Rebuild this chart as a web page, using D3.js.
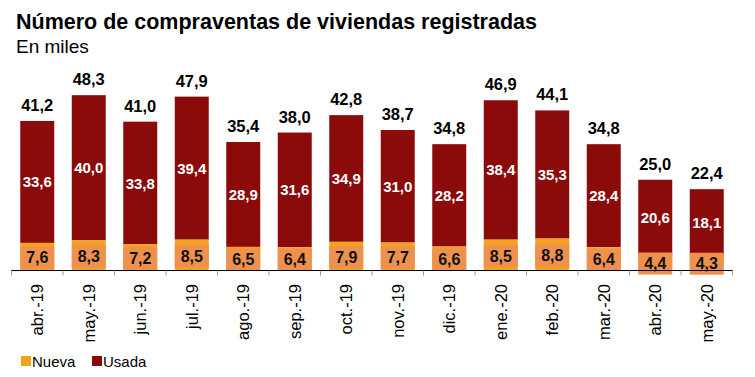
<!DOCTYPE html>
<html>
<head>
<meta charset="utf-8">
<script src="https://cdn.jsdelivr.net/npm/d3@7"></script>
<style>
body { margin: 0; background: #fff; }
svg { font-family: "Liberation Sans", Arial, sans-serif; }
</style>
</head>
<body>
<script>
var months = ['abr.-19','may.-19','jun.-19','jul.-19','ago.-19','sep.-19','oct.-19','nov.-19','dic.-19','ene.-20','feb.-20','mar.-20','abr.-20','may.-20'];
var nueva = [7.6, 8.3, 7.2, 8.5, 6.5, 6.4, 7.9, 7.7, 6.6, 8.5, 8.8, 6.4, 4.4, 4.3];
var usada = [33.6, 40.0, 33.8, 39.4, 28.9, 31.6, 34.9, 31.0, 28.2, 38.4, 35.3, 28.4, 20.6, 18.1];
var totals = [41.2, 48.3, 41.0, 47.9, 35.4, 38.0, 42.8, 38.7, 34.8, 46.9, 44.1, 34.8, 25.0, 22.4];

var width = 755, height = 377;
var baseY = 270.5;
var colNueva = '#f5a01f', colLabel = '#ee914e', colUsada = '#8b0b0b';

var svg = d3.select('body').append('svg')
  .attr('width', width)
  .attr('height', height);

svg.append('text').attr('x', 16).attr('y', 29)
  .style('font-size', '21.5px').style('font-weight', 'bold')
  .text('Número de compraventas de viviendas registradas');
svg.append('text').attr('x', 16).attr('y', 53)
  .style('font-size', '19px')
  .text('En miles');

var x = d3.scaleBand().domain(months).range([11.5, 732.5]).paddingInner(0.34).paddingOuter(0.17);
var y = d3.scaleLinear().domain([0, 50]).range([baseY, baseY - 50 * 3.63]);
var fmt = function(v) { return d3.format('.1f')(v).replace('.', ','); };

var data = months.map(function(m, i) {
  return { m: m, n: nueva[i], u: usada[i], t: totals[i] };
});

var g = svg.selectAll('g.bar').data(data).enter().append('g').attr('class', 'bar');

// usada segment
g.append('rect')
  .attr('x', function(d) { return x(d.m); })
  .attr('width', x.bandwidth())
  .attr('y', function(d) { return y(d.n + d.u); })
  .attr('height', function(d) { return y(d.n) - y(d.n + d.u); })
  .attr('fill', colUsada);

// nueva segment
g.append('rect')
  .attr('x', function(d) { return x(d.m); })
  .attr('width', x.bandwidth())
  .attr('y', function(d) { return y(d.n); })
  .attr('height', function(d) { return y(0) - y(d.n); })
  .attr('fill', colNueva);

// nueva label box
g.append('rect')
  .attr('x', function(d) { return x(d.m); })
  .attr('width', x.bandwidth())
  .attr('y', function(d) { return (y(d.n) + y(0)) / 2 - 10; })
  .attr('height', 22)
  .attr('fill', colLabel);

g.append('text')
  .attr('x', function(d) { return x(d.m) + x.bandwidth() / 2; })
  .attr('y', function(d) { return (y(d.n) + y(0)) / 2 + 6.5; })
  .attr('text-anchor', 'middle')
  .style('font-size', '16px').style('font-weight', 'bold').attr('fill', '#111')
  .text(function(d) { return fmt(d.n); });

g.append('text')
  .attr('x', function(d) { return x(d.m) + x.bandwidth() / 2; })
  .attr('y', function(d) { return (y(d.n) + y(d.n + d.u)) / 2 + 5.5; })
  .attr('text-anchor', 'middle')
  .style('font-size', '15px').style('font-weight', 'bold').attr('fill', '#fff')
  .text(function(d) { return fmt(d.u); });

g.append('text')
  .attr('x', function(d) { return x(d.m) + x.bandwidth() / 2; })
  .attr('y', function(d) { return y(d.n + d.u) - 10; })
  .attr('text-anchor', 'middle')
  .style('font-size', '16.5px').style('font-weight', 'bold').attr('fill', '#000')
  .text(function(d) { return fmt(d.t); });

// axis
svg.append('line').attr('x1', 11).attr('x2', 733).attr('y1', baseY).attr('y2', baseY)
  .attr('stroke', '#000').attr('stroke-width', 1.2);
var edges = months.map(function(m) { return x(m) - x.step() * x.paddingInner() / 2; });
edges.push(x(months[months.length - 1]) + x.bandwidth() + x.step() * x.paddingInner() / 2);
svg.selectAll('line.tick').data(edges).enter().append('line').attr('class', 'tick')
  .attr('x1', function(d) { return d; }).attr('x2', function(d) { return d; })
  .attr('y1', baseY).attr('y2', baseY + 5)
  .attr('stroke', '#999');

svg.selectAll('text.xl').data(months).enter().append('text').attr('class', 'xl')
  .attr('transform', function(m) { return 'translate(' + (x(m) + x.bandwidth() / 2 + 6) + ',' + 284 + ') rotate(-90)'; })
  .attr('text-anchor', 'end')
  .style('font-size', '16.5px').attr('fill', '#000')
  .text(function(m) { return m; });

// legend
var legend = [{ k: 'Nueva', c: colNueva, x: 21 }, { k: 'Usada', c: colUsada, x: 92 }];
var lg = svg.selectAll('g.lg').data(legend).enter().append('g').attr('class', 'lg');
lg.append('rect').attr('x', function(d) { return d.x; }).attr('y', 356).attr('width', 10).attr('height', 10)
  .attr('fill', function(d) { return d.c; });
lg.append('text').attr('x', function(d) { return d.x + 11; }).attr('y', 367)
  .style('font-size', '15px').text(function(d) { return d.k; });
</script>
</body>
</html>
